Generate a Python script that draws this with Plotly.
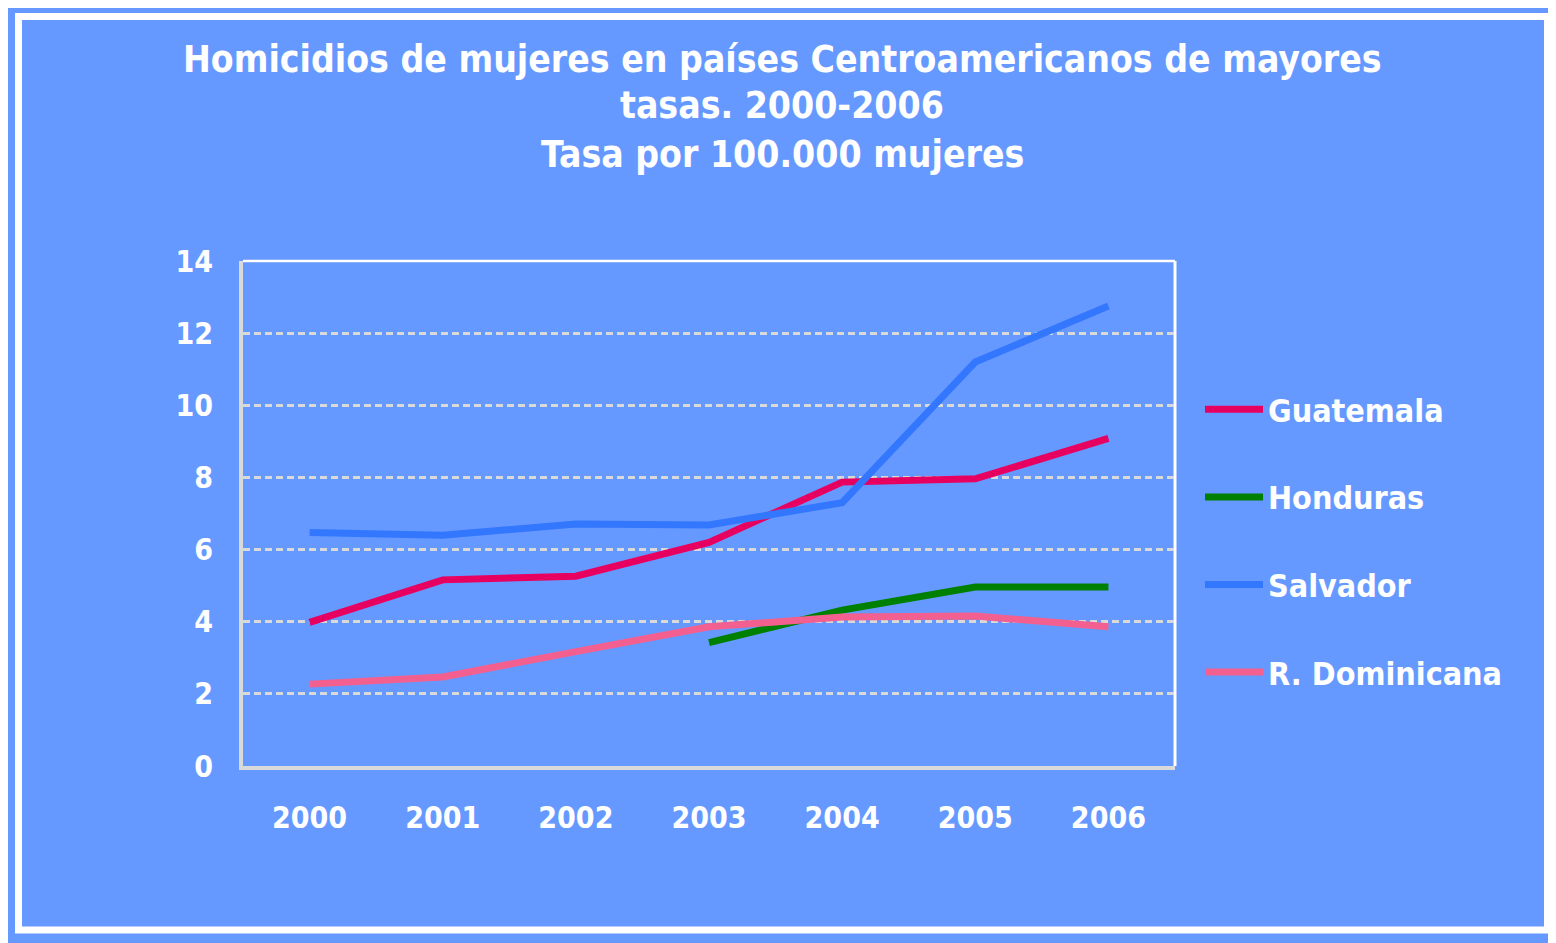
import plotly.graph_objects as go

years = ["2000", "2001", "2002", "2003", "2004", "2005", "2006"]
guatemala = [3.98, 5.16, 5.26, 6.2, 7.87, 7.96, 9.08]
honduras = [None, None, None, 3.42, 4.32, 4.96, 4.96]
salvador = [6.47, 6.40, 6.71, 6.68, 7.30, 11.2, 12.75]
dominicana = [2.27, 2.47, 3.17, 3.86, 4.13, 4.16, 3.86]
series_names = ["Guatemala", "Honduras", "Salvador", "R. Dominicana"]
series_colors = ["#E80060", "#008000", "#3377FF", "#F3608F"]
title_lines = [
    "Homicidios de mujeres en países Centroamericanos de mayores",
    "tasas. 2000-2006",
    "Tasa por 100.000 mujeres",
]
y_ticks = [0, 2, 4, 6, 8, 10, 12, 14]

OFF = 8  # page body margin
W, H = 1556 - OFF, 943 - OFF
# plot area in page pixels: x 243..1175, y 261..766
L = 243 - OFF
R = W - (1175 - OFF)
T = 261 - OFF
B = H - (766 - OFF)
PW, PH = W - L - R, H - T - B
FONT = "Liberation Sans Narrow, DejaVu Sans Condensed, Arial Narrow, sans-serif"
BG = "#6699FF"


def px(x):
    return (x - OFF - L) / PW


def py(y):
    return (H - B - (y - OFF)) / PH


fig = go.Figure()
for name, vals, col in zip(series_names, [guatemala, honduras, salvador, dominicana], series_colors):
    fig.add_trace(go.Scatter(
        x=years, y=vals, mode="lines", name=name, legendgroup=name,
        line=dict(color=col, width=7), connectgaps=False,
    ))

shapes = [
    # blue backdrop
    dict(type="rect", xref="paper", yref="paper", x0=px(0), x1=px(1600), y0=py(990), y1=py(0),
         fillcolor=BG, line=dict(width=0), layer="below"),
    # white frame
    dict(type="rect", xref="paper", yref="paper", x0=px(18.5), x1=px(1547.5), y0=py(930), y1=py(16.5),
         fillcolor="rgba(0,0,0,0)", line=dict(color="white", width=7), layer="below"),
    # plot area top and right border
    dict(type="line", xref="paper", yref="paper", x0=0, x1=1, y0=1, y1=1,
         line=dict(color="white", width=2.5), layer="below"),
    dict(type="line", xref="paper", yref="paper", x0=1, x1=1, y0=0, y1=1,
         line=dict(color="white", width=3), layer="below"),
]

annotations = []
for txt, yc in zip(title_lines, [59, 106, 154]):
    annotations.append(dict(
        text=txt, xref="paper", yref="paper", x=px(782), y=py(yc),
        xanchor="center", yanchor="middle", showarrow=False,
        font=dict(family=FONT, size=37, color="white", weight="bold"),
    ))

fig.update_layout(
    width=W, height=H,
    margin=dict(l=L, r=R, t=T, b=B, pad=0),
    paper_bgcolor=BG, plot_bgcolor=BG,
    shapes=shapes, annotations=annotations,
    showlegend=True,
    legend=dict(
        x=px(1200), y=py(382), xanchor="left", yanchor="top",
        font=dict(family=FONT, size=32, color="white", weight="bold"),
        bgcolor="rgba(0,0,0,0)", traceorder="grouped", tracegroupgap=43,
        itemwidth=58,
    ),
    xaxis=dict(
        type="category", range=[-0.5, 6.5], showgrid=False, zeroline=False,
        showline=True, linecolor="#D9D9D9", linewidth=4, ticks="",
        tickfont=dict(family=FONT, size=30, color="white", weight="bold"),
        ticklabelstandoff=22, fixedrange=True,
    ),
    yaxis=dict(
        range=[0, 14], tickvals=y_ticks, showgrid=True, gridcolor="#D9D9D9",
        gridwidth=2.5, griddash="7px,4px", zeroline=False,
        showline=True, linecolor="#D9D9D9", linewidth=4, ticks="",
        tickfont=dict(family=FONT, size=30, color="white", weight="bold"),
        ticklabelstandoff=20, fixedrange=True,
    ),
)

fig.write_html("out.html")
